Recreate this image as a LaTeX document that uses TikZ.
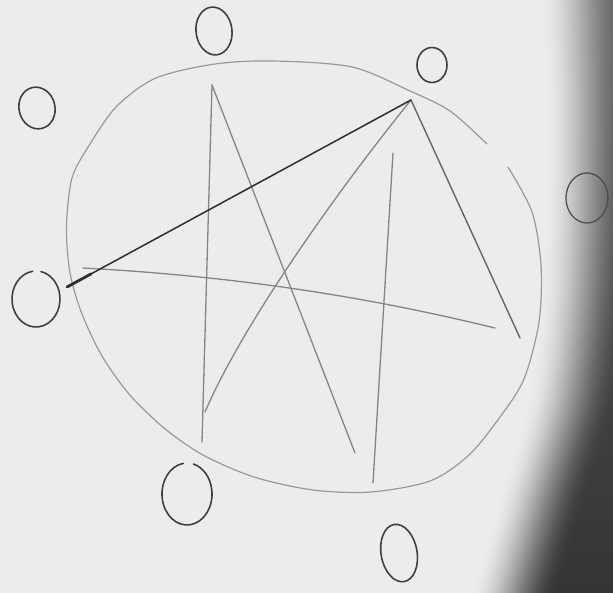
\documentclass[tikz,border=0pt]{standalone}
\usetikzlibrary{calc}
\definecolor{paper}{HTML}{ECECEC}
\definecolor{shadowtop}{HTML}{5E5E5E}
\definecolor{shadowbot}{HTML}{333333}
\definecolor{pencil}{HTML}{404040}
\definecolor{darkpencil}{HTML}{2E2E2E}
\definecolor{midpencil}{HTML}{666666}
\definecolor{faint}{HTML}{999999}
\definecolor{faintline}{HTML}{858585}
\definecolor{shadowpencil}{HTML}{4E4E4E}
\tikzset{
  ring/.style={draw=pencil, line width=1.6pt, line cap=round},
  shadowring/.style={draw=shadowpencil, line width=1.3pt},
  bigring/.style={draw=faint, line width=1.2pt, line cap=round, line join=round},
  darkstroke/.style={draw=darkpencil, line width=1.5pt, line cap=round},
  heavystroke/.style={draw=darkpencil, line width=2.8pt, line cap=round},
  midstroke/.style={draw=midpencil, line width=1.4pt, line cap=round},
  thinstroke/.style={draw=faintline, line width=1.3pt, line cap=round},
}
\begin{document}
\begin{tikzpicture}[x=1pt,y=-1pt]
\useasboundingbox (0,0) rectangle (613,593);
\clip (0,0) rectangle (613,593);
\fill[paper] (0,0) rectangle (613,593);
% photo shadow on the right
\foreach \i in {0,...,39} {
  \pgfmathsetmacro\u{(\i+1)/40}
  \pgfmathsetmacro\t{100*\u*\u*(3-2*\u)}
  \shade[top color=shadowtop!\t!paper, bottom color=shadowbot!\t!paper, xshift=2.25*\i]
    plot[smooth] coordinates {(540,-10) (544,100) (544,200) (540,300) (527,400) (498,500) (468,603)}
    -- (760,603) -- (760,-10) -- cycle;
}
% big hand-drawn circle (open at upper right)
\draw[bigring] plot[smooth] coordinates {(508,167) (532,212) (541,265) (539,322) (524,379) (500,417) (469,455) (430,481) (371,492) (313,490) (254,477) (203,455) (164,428) (129,394) (102,356) (82,314) (70,273) (66.5,227) (72,178) (90,144) (117,106) (156,78) (215,64) (274,61) (352,67) (410,91) (450,111) (487,144)};
% line end points
\coordinate (A) at (411,100);
\coordinate (B) at (67,287);
\coordinate (C) at (520,338);
\coordinate (D) at (205,412);
\coordinate (E) at (212,85);
\coordinate (F) at (202,442);
\coordinate (G) at (355,453);
\coordinate (H) at (393,153);
\coordinate (I) at (373,483);
\coordinate (J) at (83,268);
\coordinate (K) at (495,328);
% star lines
\draw[thinstroke] (E) -- (F);
\draw[thinstroke] (E) -- (G);
\draw[thinstroke] (H) -- (I);
\draw[thinstroke] (A) .. controls (330,200) and (240,330) .. (D);
\draw[thinstroke] (J) .. controls (250,277) and (380,300) .. (K);
\draw[midstroke] (A) -- (C);
\draw[darkstroke] (A) -- (B);
\draw[heavystroke] (B) -- ($(B)!0.07!(A)$);
% small circles
\coordinate (c1) at (214,31);
\coordinate (c2) at (37,108);
\coordinate (c3) at (432,65);
\coordinate (c4) at (587,198);
\coordinate (c5) at (36,299);
\coordinate (c6) at (187,494);
\coordinate (c7) at (399,553);
\draw[ring, rotate around={7:(c1)}] (c1) ellipse [x radius=18, y radius=24];
\draw[ring, rotate around={13:(c2)}] (c2) ellipse [x radius=18, y radius=21];
\draw[ring] (c3) ellipse [x radius=15, y radius=17.5];
\draw[shadowring] (c4) ellipse [x radius=21, y radius=25];
\draw[ring] ($(c5)+(262:24 and 28)$) arc[start angle=262, end angle=-78, x radius=24, y radius=28];
\draw[ring] ($(c6)+(262:25 and 31)$) arc[start angle=262, end angle=-75, x radius=25, y radius=31];
\draw[ring, rotate around={10:(c7)}] (c7) ellipse [x radius=18, y radius=29];
\end{tikzpicture}
\end{document}
